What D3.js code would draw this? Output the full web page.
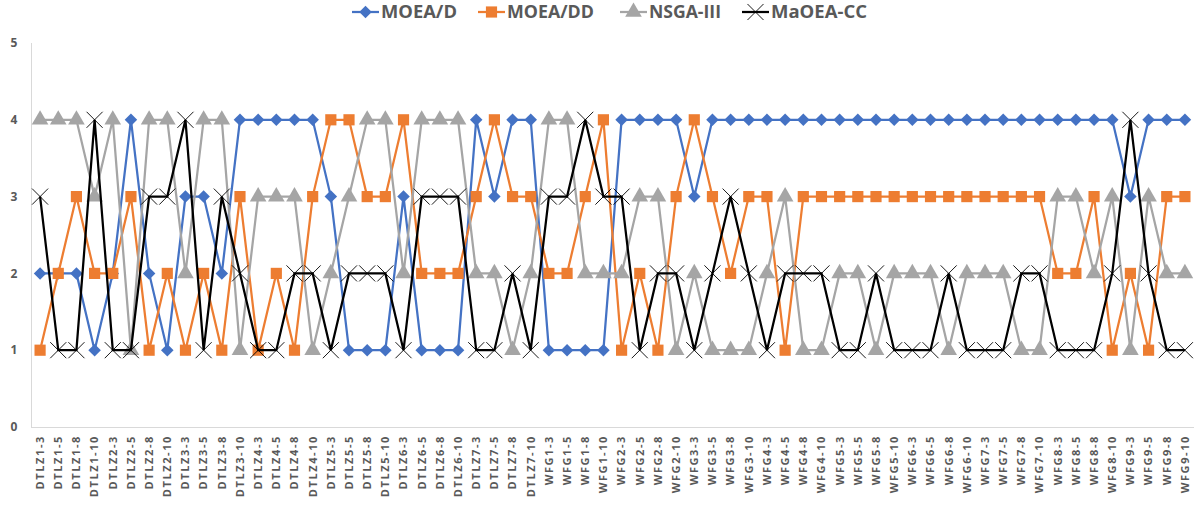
<!DOCTYPE html>
<html>
<head>
<meta charset="utf-8">
<script src="https://cdn.jsdelivr.net/npm/d3@7"></script>
<style>
  body { margin: 0; background: #fff; }
  svg { display: block; font-family: "Open Sans", "Liberation Sans", sans-serif; }
</style>
</head>
<body>
<div class="root"></div>
<script>
// categories
var problems = ['DTLZ1','DTLZ2','DTLZ3','DTLZ4','DTLZ5','DTLZ6','DTLZ7',
                'WFG1','WFG2','WFG3','WFG4','WFG5','WFG6','WFG7','WFG8','WFG9'];
var objectives = [3, 5, 8, 10];
var categories = [];
problems.forEach(function(p) { objectives.forEach(function(m) { categories.push(p + '-' + m); }); });

var seriesNames = ['MOEA/D', 'MOEA/DD', 'NSGA-III', 'MaOEA-CC'];

var moead   = [2,2,2,1, 2,4,2,1, 3,3,2,4, 4,4,4,4, 3,1,1,1, 3,1,1,1, 4,3,4,4,
               1,1,1,1, 4,4,4,4, 3,4,4,4, 4,4,4,4, 4,4,4,4, 4,4,4,4, 4,4,4,4, 4,4,4,4, 3,4,4,4];
var moeadd  = [1,2,3,2, 2,3,1,2, 1,2,1,3, 1,2,1,3, 4,4,3,3, 4,2,2,2, 3,4,3,3,
               2,2,3,4, 1,2,1,3, 4,3,2,3, 3,1,3,3, 3,3,3,3, 3,3,3,3, 3,3,3,3, 2,2,3,1, 2,1,3,3];
var nsga3   = [4,4,4,3, 4,1,4,4, 2,4,4,1, 3,3,3,1, 2,3,4,4, 2,4,4,4, 2,2,1,2,
               4,4,2,2, 2,3,3,1, 2,1,1,1, 2,3,1,1, 2,2,1,2, 2,2,1,2, 2,2,1,1, 3,3,2,3, 1,3,2,2];
var maoeacc = [3,1,1,4, 1,1,3,3, 4,1,3,2, 1,1,2,2, 1,2,2,2, 1,3,3,3, 1,1,2,1,
               3,3,4,3, 3,1,2,2, 1,2,3,2, 1,2,2,2, 1,1,2,1, 1,1,2,1, 1,1,2,2, 1,1,1,2, 4,2,1,1];

var yTicks = [0, 1, 2, 3, 4, 5];

var seriesData = [moead, moeadd, nsga3, maoeacc];
var colors = ['#4472C4', '#ED7D31', '#A5A5A5', '#000000'];
var symbols = [d3.symbolDiamond2, d3.symbolSquare, d3.symbolTriangle, d3.symbolX];
var symSizes = [100, 125, 120, 170];

var w = 1197, h = 507;
var margin = { left: 31, right: 3, top: 43, bottom: 80 };

var svg = d3.select('.root').append('svg')
  .attr('width', w)
  .attr('height', h);

var x = d3.scaleBand()
  .domain(categories)
  .range([margin.left, w - margin.right]);

var y = d3.scaleLinear()
  .domain([0, 5])
  .range([h - margin.bottom, margin.top]);

// axis lines
svg.append('line')
  .attr('x1', margin.left + 0.5).attr('x2', margin.left + 0.5)
  .attr('y1', y(5)).attr('y2', y(0))
  .attr('stroke', '#d9d9d9');

svg.append('line')
  .attr('x1', margin.left).attr('x2', w - margin.right)
  .attr('y1', y(0) + 0.5).attr('y2', y(0) + 0.5)
  .attr('stroke', '#d9d9d9');

svg.append('g').selectAll('text')
  .data(yTicks)
  .enter().append('text')
    .attr('x', 14)
    .attr('y', function(d) { return y(d); })
    .attr('dy', '0.35em')
    .attr('text-anchor', 'middle')
    .attr('fill', '#595959')
    .attr('font-size', 12)
    .attr('font-weight', 'bold')
    .text(function(d) { return d; });

// x labels
svg.append('g').selectAll('text')
  .data(categories)
  .enter().append('text')
    .attr('transform', function(d) {
      return 'translate(' + (x(d) + x.bandwidth() / 2) + ',' + (y(0) + 8) + ') rotate(-90)';
    })
    .attr('dy', '0.35em')
    .attr('text-anchor', 'end')
    .attr('fill', '#595959')
    .attr('font-size', 11)
    .attr('font-weight', 'bold')
    .attr('letter-spacing', 1.6)
    .text(function(d) { return d; });

var cx = function(i) { return x(categories[i]) + x.bandwidth() / 2; };

var line = d3.line()
  .x(function(d, i) { return cx(i); })
  .y(function(d) { return y(d); });

seriesData.forEach(function(vals, s) {
  var g = svg.append('g');
  g.append('path')
    .datum(vals)
    .attr('d', line)
    .attr('fill', 'none')
    .attr('stroke', colors[s])
    .attr('stroke-width', 2.25);

  var sym = d3.symbol().type(symbols[s]).size(symSizes[s]);
  g.selectAll('path.m')
    .data(vals)
    .enter().append('path')
      .attr('class', 'm')
      .attr('transform', function(d, i) { return 'translate(' + cx(i) + ',' + y(d) + ')'; })
      .attr('d', sym)
      .attr('fill', s === 3 ? 'none' : colors[s])
      .attr('stroke', s === 3 ? colors[s] : 'none')
      .attr('stroke-width', 0.9);
});

// legend
var legendX = [352, 478, 620, 742];
var legendW = [76, 87, 72, 96];
var legend = svg.append('g').selectAll('g')
  .data(seriesNames)
  .enter().append('g')
    .attr('transform', function(d, i) { return 'translate(' + legendX[i] + ',12)'; });

legend.append('line')
  .attr('x1', 0).attr('x2', 27)
  .attr('stroke', function(d, i) { return colors[i]; })
  .attr('stroke-width', 2.25);

legend.append('path')
  .attr('transform', 'translate(13.5,0)')
  .attr('d', function(d, i) { return d3.symbol().type(symbols[i]).size(symSizes[i])(); })
  .attr('fill', function(d, i) { return i === 3 ? 'none' : colors[i]; })
  .attr('stroke', function(d, i) { return i === 3 ? colors[i] : 'none'; })
  .attr('stroke-width', 0.9);

legend.append('text')
  .attr('x', 29)
  .attr('dy', '0.36em')
  .attr('fill', '#595959')
  .attr('font-size', 17)
  .attr('font-weight', 'bold')
  .attr('textLength', function(d, i) { return legendW[i]; })
  .attr('lengthAdjust', 'spacingAndGlyphs')
  .text(function(d) { return d; });
</script>
</body>
</html>
